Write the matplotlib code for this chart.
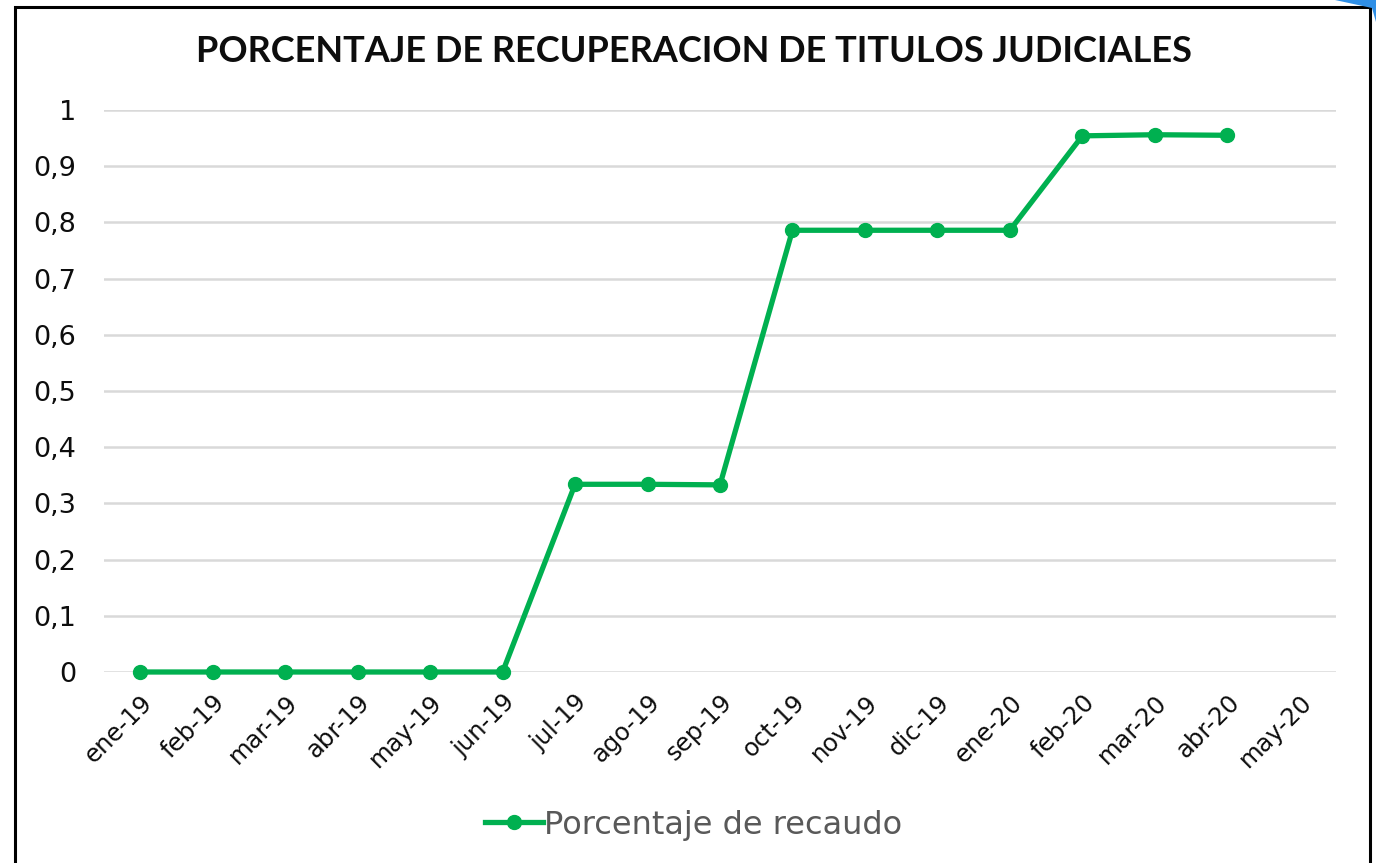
import matplotlib
matplotlib.use("Agg")
import matplotlib.pyplot as plt
from matplotlib.patches import Rectangle, Polygon

months = ["ene-19", "feb-19", "mar-19", "abr-19", "may-19", "jun-19", "jul-19",
          "ago-19", "sep-19", "oct-19", "nov-19", "dic-19", "ene-20", "feb-20",
          "mar-20", "abr-20", "may-20"]
recaudo = [0, 0, 0, 0, 0, 0, 0.334, 0.334, 0.333, 0.786, 0.786, 0.786, 0.786,
           0.954, 0.956, 0.955]
yticks = [0, 0.1, 0.2, 0.3, 0.4, 0.5, 0.6, 0.7, 0.8, 0.9, 1]
ytick_labels = ["0", "0,1", "0,2", "0,3", "0,4", "0,5", "0,6", "0,7", "0,8", "0,9", "1"]
title = "PORCENTAJE DE RECUPERACION DE TITULOS JUDICIALES"
series_name = "Porcentaje de recaudo"

plt.rcParams['font.family'] = ['DejaVu Sans']

W, H = 1376, 863
fig = plt.figure(figsize=(W / 100, H / 100), dpi=100)
fig.patch.set_facecolor("white")

# outer border
fig.patches.append(Rectangle((15 / W, -0.05), (1370 - 15) / W, 1.05 - 7 / H,
                             transform=fig.transFigure, fill=False,
                             edgecolor="black", linewidth=2.2))
# blue corner artifact
fig.patches.append(Polygon([(1335 / W, 1), (1, 1), (1, 1 - 22 / H), (1372 / W, 1 - 8 / H)],
                           closed=True, transform=fig.transFigure,
                           facecolor="#2F8FE6", edgecolor="none"))

ax = fig.add_axes([104 / W, 1 - 672 / H, (1336 - 104) / W, (672 - 110) / H])
x = list(range(len(months)))
ax.plot(x[:len(recaudo)], recaudo, color="#00B050", linewidth=3.8,
        marker="o", markersize=10, label=series_name, solid_joinstyle="round",
        clip_on=False, zorder=3)

ax.set_xlim(-0.5, len(months) - 0.5)
ax.set_ylim(0, 1)
ax.set_yticks(yticks)
ax.set_yticklabels(ytick_labels, fontsize=19.5, color="#0D0D0D")
ax.set_xticks(x)
ax.set_xticklabels(months, fontsize=17.5, color="#0D0D0D", rotation=45,
                   ha="right", rotation_mode="anchor")
ax.tick_params(axis="y", length=0, pad=20)
ax.tick_params(axis="x", length=0, pad=13)
for s in ax.spines.values():
    s.set_visible(False)
ax.grid(axis="y", color="#D9D9D9", linewidth=1.8)
ax.set_axisbelow(True)

fig.text(694 / W, 1 - 51 / H, title, ha="center", va="center",
         fontsize=26, fontweight="bold", color="#0D0D0D", family="Lato")

leg = fig.legend(loc="center", bbox_to_anchor=(694 / W, 1 - 825 / H),
                 frameon=False, fontsize=23, handlelength=1.8, handletextpad=0.05)
for t in leg.get_texts():
    t.set_color("#595959")

fig.savefig("out.png", dpi=100)
